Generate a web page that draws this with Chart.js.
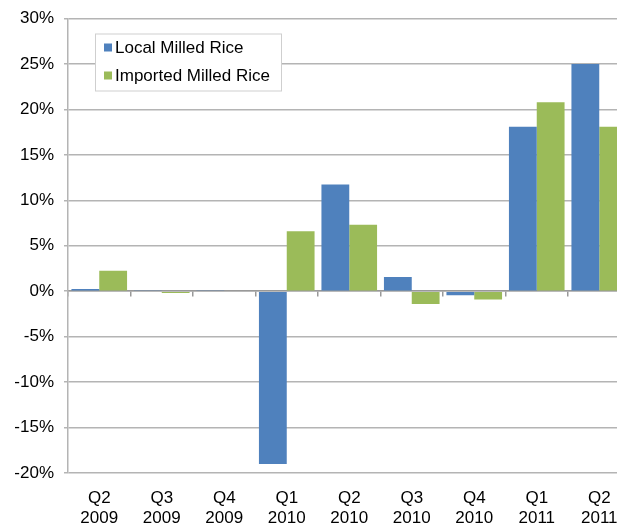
<!DOCTYPE html>
<html>
<head>
<meta charset="utf-8">
<script src="https://cdn.jsdelivr.net/npm/chart.js@4"></script>
<style>
    html, body { margin: 0; padding: 0; background: #fff; overflow: hidden; }
    #riceChart { display: block; }
</style>
</head>
<body>
<canvas id="riceChart" width="640" height="525"></canvas>
<script>
// Quarterly change in milled rice prices (%)
const quarters = [["Q2", "2009"], ["Q3", "2009"], ["Q4", "2009"], ["Q1", "2010"], ["Q2", "2010"],
                  ["Q3", "2010"], ["Q4", "2010"], ["Q1", "2011"], ["Q2", "2011"]];
const localRice = [0.25, 0.1, 0.1, -19.0, 11.75, 1.55, -0.45, 18.1, 25.0];
const importedRice = [2.25, -0.2, 0, 6.6, 7.3, -1.4, -0.9, 20.8, 18.1];
const yTicks = { min: -20, max: 30, step: 5 };

const FONT = "'Liberation Sans', Arial, sans-serif";
const gridGray = "#b4b4b4";

// Legend box drawn inside the plot area, top left
const boxLegend = {
    id: "boxLegend",
    afterDraw(chart) {
        const ctx = chart.ctx;
        const area = chart.chartArea;
        const x = area.left + 27, y = area.top + 15;
        const w = 186, h = 57;
        ctx.save();
        ctx.fillStyle = "#fff";
        ctx.fillRect(x, y, w, h);
        ctx.strokeStyle = "#cfcfcf";
        ctx.lineWidth = 1;
        ctx.strokeRect(x + 0.5, y + 0.5, w, h);
        ctx.font = "17px " + FONT;
        ctx.textBaseline = "middle";
        chart.data.datasets.forEach((ds, i) => {
            const cy = y + 14 + i * 28;
            ctx.fillStyle = ds.backgroundColor;
            ctx.fillRect(x + 9, cy - 4, 8, 8);
            ctx.fillStyle = "#000";
            ctx.fillText(ds.label, x + 20, cy + 1);
        });
        ctx.restore();
    }
};

const ctx = document.getElementById("riceChart").getContext("2d");
const riceChart = new Chart(ctx, {
    type: "bar",
    data: {
        labels: quarters,
        datasets: [
            { label: "Local Milled Rice", data: localRice, backgroundColor: "#4F81BD" },
            { label: "Imported Milled Rice", data: importedRice, backgroundColor: "#9BBB59" }
        ]
    },
    options: {
        responsive: false,
        animation: false,
        layout: { padding: { top: 6, right: 9.5, left: 0, bottom: 0 } },
        datasets: { bar: { barPercentage: 1, categoryPercentage: 0.89 } },
        plugins: {
            legend: { display: false },
            tooltip: { enabled: false }
        },
        scales: {
            x: {
                grid: { display: false },
                border: { display: false },
                ticks: {
                    color: "#000",
                    font: { family: FONT, size: 17 },
                    padding: 7,
                    maxRotation: 0,
                    autoSkip: false
                },
                afterFit(scale) { scale.height = 52; }
            },
            // zero line with category tick marks
            xZero: {
                type: "category",
                labels: quarters,
                position: { y: 0 },
                offset: true,
                ticks: { display: false },
                grid: { drawOnChartArea: false, tickLength: 5, color: "#999", lineWidth: 1.5 },
                border: { color: "#999", width: 1.5 }
            },
            y: {
                min: yTicks.min,
                max: yTicks.max,
                ticks: {
                    stepSize: yTicks.step,
                    color: "#000",
                    font: { family: FONT, size: 17, lineHeight: 1 },
                    padding: 10,
                    callback: v => v + "%"
                },
                grid: { color: gridGray, lineWidth: 1.5, tickLength: 4 },
                border: { color: gridGray, width: 1.5 },
                afterFit(scale) { scale.width = 68; }
            }
        }
    },
    plugins: [boxLegend]
});
</script>
</body>
</html>
